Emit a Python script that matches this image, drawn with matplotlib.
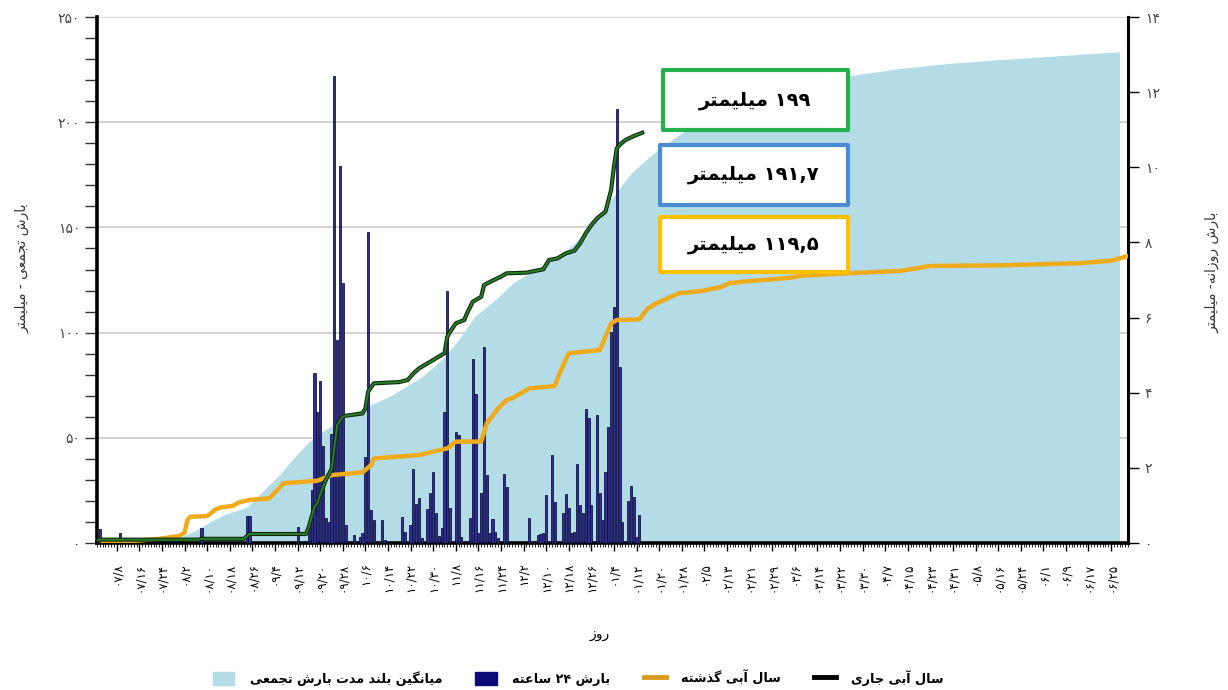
import matplotlib
matplotlib.use("Agg")
import matplotlib.pyplot as plt
from matplotlib.patches import Patch, Rectangle
from matplotlib.lines import Line2D
from matplotlib.ticker import FixedLocator, MultipleLocator, FuncFormatter
import matplotlib.patheffects as pe

plt.rcParams['font.family'] = ['DejaVu Sans']

# ---- data (day of water year, starting 07/01 = 1) ----
area_days = [1, 13, 23, 30, 36, 41, 46, 54, 60, 66, 71, 76, 82, 89, 96, 105, 116, 123, 128, 132,
             135, 139, 144, 148, 158, 166, 174, 181, 190, 198, 207, 214, 221, 232, 250, 267, 285,
             303, 321, 338, 363]
area_vals = [0, 0.3, 1, 2.5, 6, 10, 13.5, 17, 25, 33, 41, 48, 54, 59.5, 64.5, 70, 79, 87, 95, 102.5,
             108, 112.3, 118, 123.4, 131.3, 137.7, 147.2, 159.8, 175.7, 185.2, 194, 200, 205, 211,
             217.5, 222, 225.5, 228, 229.8, 231.3, 233.5]

bar_days = [2, 9, 38, 54, 55, 72, 76, 77, 78, 79, 80, 81, 82, 83, 84, 85, 86, 87, 88, 89, 92, 94, 95,
            96, 97, 98, 99, 102, 103, 109, 110, 112, 113, 114, 115, 116, 118, 119, 120, 121, 122, 123,
            124, 125, 126, 128, 129, 130, 133, 134, 135, 136, 137, 138, 139, 140, 141, 142, 143, 145,
            146, 154, 157, 158, 159, 160, 162, 163, 166, 167, 168, 169, 170, 171, 172, 173, 174, 175,
            176, 178, 179, 180, 181, 182, 183, 184, 185, 186, 187, 189, 190, 191, 192, 193]
bar_vals = [0.37, 0.26, 0.4, 0.72, 0.72, 0.42, 0.57, 1.41, 4.53, 3.5, 4.32, 2.59, 0.66, 0.57, 2.9,
            12.43, 5.4, 10.03, 6.93, 0.48, 0.21, 0.17, 0.27, 2.3, 8.29, 0.88, 0.61, 0.61, 0.08, 0.7,
            0.3, 0.48, 1.96, 1.04, 1.19, 0.13, 0.9, 1.34, 1.9, 0.79, 0.19, 0.39, 3.5, 6.72, 0.92, 2.96,
            2.87, 0.15, 0.66, 4.89, 3.97, 0.26, 1.34, 5.21, 1.81, 0.26, 0.63, 0.3, 0.13, 1.84, 1.5,
            0.66, 0.21, 0.24, 0.26, 1.28, 2.34, 1.1, 0.79, 1.3, 0.92, 0.26, 0.3, 2.1, 1.01, 0.79, 3.58,
            3.32, 1.01, 3.41, 1.32, 0.61, 1.9, 3.1, 5.62, 6.27, 11.54, 4.69, 0.57, 1.13, 1.53, 1.22,
            0.17, 0.75]

current_days = [1, 2, 37, 38, 53, 55, 75, 76, 78, 79, 80, 82, 84, 85, 86, 88, 89, 95, 96, 97, 99, 108,
                111, 113, 115, 118, 121, 124, 125, 126, 128, 131, 132, 134, 137, 138, 141, 144, 146,
                153, 159, 161, 164, 167, 170, 172, 174, 176, 178, 181, 183, 184, 185, 186, 188, 191, 194]
current_vals = [1.2, 1.6, 1.6, 2.0, 2.0, 4.3, 4.3, 7.7, 17.3, 19, 23, 30, 35, 45, 56, 60, 60.5, 61.6,
                64, 72, 75.9, 76.5, 77.5, 80.6, 83, 85.4, 87.8, 90.2, 98, 100.4, 104.4, 106, 109.2,
                114.7, 117, 122.6, 124.7, 126.6, 128.2, 128.5, 130.1, 134.5, 135.3, 137.7, 138.9,
                142.4, 147.2, 151.1, 154.3, 157.5, 167.8, 178.8, 187.6, 189.2, 191.5, 193.4, 195]

previous_days = [3, 6, 16, 23, 30, 32, 33, 34, 40, 43, 45, 49, 51, 55, 62, 64, 67, 79, 84, 95, 98, 99,
                 115, 125, 128, 137, 139, 143, 146, 148, 154, 163, 165, 168, 179, 183, 185, 193, 196,
                 199, 207, 215, 222, 225, 232, 246, 250, 268, 285, 291, 296, 321, 349, 360, 366]
previous_vals = [0.2, 0.6, 1.2, 2.0, 3.3, 5.0, 11.0, 12.5, 12.8, 16.0, 17.0, 17.6, 19.2, 20.5, 21.2,
                 24.0, 28.4, 29.6, 32.3, 33.6, 37.0, 40.2, 41.8, 45.0, 48.2, 48.2, 56.9, 64.0, 68.0,
                 68.8, 73.5, 74.6, 81.4, 90.2, 91.7, 104.4, 106.0, 106.3, 111.5, 113.9, 118.7, 119.8,
                 121.7, 123.6, 124.5, 126.0, 127.0, 128.3, 129.3, 130.5, 131.7, 132.0, 133.0, 134.2,
                 136.4]

xtick_days = list(range(8, 361, 8))
xtick_labels = ['07/8', '07/16', '07/24', '08/2', '08/10', '08/18', '08/26', '09/4', '09/12',
                '09/20', '09/28', '10/6', '10/14', '10/22', '10/30', '11/8', '11/16', '11/24',
                '12/2', '12/10', '12/18', '12/26', '01/4', '01/12', '01/20', '01/28', '02/5',
                '02/13', '02/21', '02/29', '03/6', '03/14', '03/22', '03/30', '04/7', '04/15',
                '04/23', '04/31', '05/8', '05/16', '05/24', '06/1', '06/9', '06/17', '06/25']

box_texts = ['199 میلیمتر', '191,7 میلیمتر', '119,5 میلیمتر']
legend_labels = ['میانگین بلند مدت بارش تجمعی', 'بارش 24 ساعته', 'سال آبی گذشته', 'سال آبی جاری']

# ---- persian text helpers (matplotlib has no shaping / bidi) ----
FA_DIGITS = str.maketrans('0123456789', '۰۱۲۳۴۵۶۷۸۹')

# isolated, final, initial, medial
FORMS = {
    'ا': ('\uFE8D', '\uFE8E', None, None),
    'آ': ('\uFE81', '\uFE82', None, None),
    'ب': ('\uFE8F', '\uFE90', '\uFE91', '\uFE92'),
    'ت': ('\uFE95', '\uFE96', '\uFE97', '\uFE98'),
    'ج': ('\uFE9D', '\uFE9E', '\uFE9F', '\uFEA0'),
    'د': ('\uFEA9', '\uFEAA', None, None),
    'ذ': ('\uFEAB', '\uFEAC', None, None),
    'ر': ('\uFEAD', '\uFEAE', None, None),
    'ز': ('\uFEAF', '\uFEB0', None, None),
    'س': ('\uFEB1', '\uFEB2', '\uFEB3', '\uFEB4'),
    'ش': ('\uFEB5', '\uFEB6', '\uFEB7', '\uFEB8'),
    'ع': ('\uFEC9', '\uFECA', '\uFECB', '\uFECC'),
    'ل': ('\uFEDD', '\uFEDE', '\uFEDF', '\uFEE0'),
    'م': ('\uFEE1', '\uFEE2', '\uFEE3', '\uFEE4'),
    'ن': ('\uFEE5', '\uFEE6', '\uFEE7', '\uFEE8'),
    'ه': ('\uFEE9', '\uFEEA', '\uFEEB', '\uFEEC'),
    'و': ('\uFEED', '\uFEEE', None, None),
    'گ': ('\uFB92', '\uFB93', '\uFB94', '\uFB95'),
    'ی': ('\uFBFC', '\uFBFD', '\uFBFE', '\uFBFF'),
}


def fa(s):
    return str(s).translate(FA_DIGITS)


def shape_word(w):
    out = []
    for i, ch in enumerate(w):
        if ch not in FORMS:
            out.append(ch)
            continue
        prev = w[i - 1] if i > 0 else None
        nxt = w[i + 1] if i + 1 < len(w) else None
        iso, fin, ini, med = FORMS[ch]
        j_prev = prev in FORMS and FORMS[prev][2] is not None
        j_next = nxt in FORMS and ini is not None
        if j_prev and j_next:
            out.append(med)
        elif j_prev:
            out.append(fin)
        elif j_next:
            out.append(ini)
        else:
            out.append(iso)
    return ''.join(reversed(out))


def rtl(s):
    words = []
    for w in fa(s).split(' '):
        words.append(shape_word(w) if any(c in FORMS for c in w) else w)
    return ' '.join(reversed(words))


# ---- figure ----
fig = plt.figure(figsize=(12.28, 6.90), dpi=100)
ax = fig.add_axes([0.079, 0.213, 0.8396, 0.7623])
axr = ax.twinx()
axl = ax.twinx()

# long-term mean (left axis)
ax.fill_between(area_days, area_vals, 0, color='#b3dce7', lw=0, zorder=1)
ax.set_xlim(1, 366)
ax.set_ylim(0, 250)
ax.set_axisbelow(True)
ax.yaxis.set_major_locator(MultipleLocator(50))
ax.yaxis.set_minor_locator(MultipleLocator(10))
ax.yaxis.set_major_formatter(FuncFormatter(lambda v, p: fa(int(v))))
ax.grid(axis='y', which='major', color='#cfcfcf', lw=1.3)
ax.tick_params(axis='y', which='both', length=9, width=1, color='#333333',
               labelsize=10, labelcolor='#444444', pad=3)
ax.xaxis.set_major_locator(FixedLocator(xtick_days))
ax.xaxis.set_minor_locator(MultipleLocator(1))
ax.set_xticklabels([fa(t) for t in xtick_labels], rotation=90, fontsize=8.5)
ax.tick_params(axis='x', which='major', length=6, width=1, pad=8)
ax.tick_params(axis='x', which='minor', length=3, width=0.6)
for side in ('left', 'bottom'):
    ax.spines[side].set_linewidth(2.6)
ax.spines['top'].set_visible(False)
ax.spines['right'].set_visible(False)

# daily bars (right axis)
axr.bar(bar_days, bar_vals, width=0.75, color='#2e2e96', edgecolor='#0a0a36', lw=0.55, zorder=2)
axr.set_ylim(0, 14)
axr.yaxis.set_major_locator(MultipleLocator(2))
axr.yaxis.set_major_formatter(FuncFormatter(lambda v, p: fa(int(v))))
axr.tick_params(axis='y', length=8, width=1, labelsize=10, labelcolor='#444444', pad=4)
axr.spines['right'].set_linewidth(2.2)
for side in ('left', 'top', 'bottom'):
    axr.spines[side].set_visible(False)

# cumulative lines (left scale, drawn above bars)
axl.set_ylim(0, 250)
axl.axis('off')
axl.plot(previous_days, previous_vals, color='#efab1c', lw=3.2, solid_capstyle='round')
axl.plot(current_days, current_vals, color='#2a7d2a', lw=1.4,
         path_effects=[pe.Stroke(linewidth=3.0, foreground='#0f2a0f'), pe.Normal()])

# axis titles
fig.text(22 / 1228, 1 - 268 / 690, rtl('بارش تجمعی - میلیمتر'), rotation=90,
         ha='center', va='center', fontsize=10, color='#333333')
fig.text(1212 / 1228, 1 - 272 / 690, rtl('بارش روزانه- میلیمتر'), rotation=90,
         ha='center', va='center', fontsize=10, color='#333333')
fig.text(600 / 1228, 1 - 634 / 690, rtl('روز'), ha='center', va='center', fontsize=10)

# value boxes
boxes = [((663, 70, 848, 130), '#22b14c'),
         ((660, 145, 848, 205), '#4a8bd6'),
         ((660, 217, 848, 272), '#ffc000')]
for ((x0, y0, x1, y1), ec), txt in zip(boxes, box_texts):
    fig.add_artist(Rectangle((x0 / 1228, 1 - y1 / 690), (x1 - x0) / 1228, (y1 - y0) / 690,
                             transform=fig.transFigure, facecolor='white', edgecolor=ec,
                             lw=3, joinstyle='round', zorder=5))
    fig.text((x0 + x1) / 2 / 1228, 1 - (y0 + y1) / 2 / 690, rtl(txt), ha='center', va='center',
             fontsize=14, fontweight='bold', color='black', zorder=6)

# legend
handles = [Patch(facecolor='#b3dce7', edgecolor='#b3dce7'),
           Patch(facecolor='#0a0a78', edgecolor='#0a0a78'),
           Line2D([], [], color='#d99a1e', lw=3.5),
           Line2D([], [], color='black', lw=3.5)]
fig.legend(handles, [rtl(t) for t in legend_labels], loc='center',
           bbox_to_anchor=(578 / 1228, 1 - 678 / 690), ncol=4, frameon=False,
           prop={'weight': 'bold', 'size': 9.2}, handlelength=1.7, handleheight=1.2,
           columnspacing=2.6, handletextpad=1.2)

fig.savefig('out.png', dpi=100, facecolor='white')
